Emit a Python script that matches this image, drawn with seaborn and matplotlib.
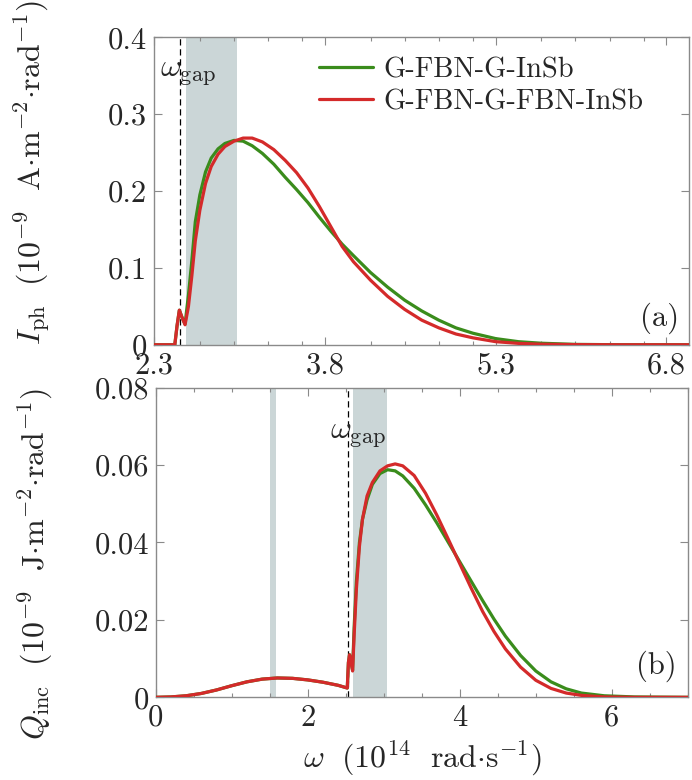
import numpy as np
import pandas as pd
import matplotlib
matplotlib.use('Agg')
import matplotlib.pyplot as plt
from matplotlib.ticker import FixedLocator, MultipleLocator
import seaborn as sns

sns.set_style('ticks')
plt.rcParams['font.family'] = 'serif'
plt.rcParams['font.serif'] = ['cmr10', 'DejaVu Serif']
plt.rcParams['mathtext.fontset'] = 'cm'
plt.rcParams['axes.unicode_minus'] = False

# Panel (a): photocurrent
w_a = [2.30, 2.48, 2.50, 2.52, 2.545, 2.57, 2.60, 2.63, 2.66, 2.70, 2.75, 2.80, 2.86, 2.92,
       3.00, 3.08, 3.16, 3.25, 3.35, 3.45, 3.55, 3.65, 3.75, 3.85, 3.95, 4.05, 4.20, 4.35,
       4.50, 4.65, 4.80, 4.95, 5.10, 5.30, 5.50, 5.70, 6.00, 6.40, 7.00]
iph_green = [0, 0, 0.025, 0.045, 0.035, 0.027, 0.065, 0.110, 0.160, 0.195, 0.225, 0.243, 0.255, 0.262,
             0.266, 0.265, 0.259, 0.249, 0.235, 0.218, 0.202, 0.185, 0.166, 0.148, 0.131, 0.116, 0.094, 0.075,
             0.058, 0.044, 0.032, 0.022, 0.015, 0.008, 0.004, 0.002, 0.0005, 0, 0]
iph_red = [0, 0, 0.025, 0.045, 0.035, 0.026, 0.050, 0.090, 0.135, 0.175, 0.210, 0.232, 0.248, 0.258,
           0.265, 0.269, 0.269, 0.264, 0.254, 0.240, 0.224, 0.204, 0.180, 0.154, 0.128, 0.108, 0.084, 0.063,
           0.046, 0.032, 0.022, 0.014, 0.009, 0.004, 0.0018, 0.0007, 0.0002, 0, 0]

# Panel (b): incident heat flux
w_b = [0, 0.2, 0.4, 0.6, 0.8, 1.0, 1.2, 1.4, 1.6, 1.8, 2.0, 2.2, 2.4, 2.52, 2.535, 2.55, 2.57,
       2.59, 2.61, 2.64, 2.68, 2.72, 2.78, 2.85, 2.95, 3.05, 3.15, 3.25, 3.40, 3.55, 3.70, 3.85,
       4.00, 4.15, 4.30, 4.45, 4.60, 4.80, 5.00, 5.20, 5.40, 5.60, 5.90, 6.30, 7.00]
q_green = [0, 0.0001, 0.0004, 0.0010, 0.0019, 0.0030, 0.0040, 0.0047, 0.0050, 0.0049, 0.0045, 0.0039,
           0.0031, 0.0024, 0.0090, 0.0110, 0.0090, 0.0070, 0.0180, 0.0300, 0.0400, 0.0460, 0.0510,
           0.0550, 0.0578, 0.0588, 0.0585, 0.0572, 0.0540, 0.0497, 0.0450, 0.0400, 0.0350, 0.0300,
           0.0250, 0.0202, 0.0158, 0.0108, 0.0068, 0.0040, 0.0022, 0.0011, 0.0004, 0.0001, 0]
q_red = [0, 0.0001, 0.0004, 0.0010, 0.0019, 0.0030, 0.0040, 0.0047, 0.0050, 0.0049, 0.0045, 0.0039,
         0.0031, 0.0024, 0.0090, 0.0110, 0.0090, 0.0068, 0.0160, 0.0280, 0.0390, 0.0460, 0.0520,
         0.0555, 0.0585, 0.0598, 0.0603, 0.0598, 0.0573, 0.0527, 0.0470, 0.0408, 0.0345, 0.0282,
         0.0222, 0.0170, 0.0125, 0.0078, 0.0044, 0.0023, 0.0011, 0.0005, 0.0001, 0, 0]

labels = ['G-FBN-G-InSb', 'G-FBN-G-FBN-InSb']
colors = ['#3a8c1c', '#d42a2a']
w_gap = 2.53
band_a = (2.575, 3.025)
band_b = [(1.50, 1.58), (2.59, 3.04)]
shade = '#cbd6d7'
spine_c = '#8a8a8a'

df_a = pd.DataFrame({'w': w_a * 2, 'y': iph_green + iph_red,
                     'struct': [labels[0]] * len(w_a) + [labels[1]] * len(w_a)})
df_b = pd.DataFrame({'w': w_b * 2, 'y': q_green + q_red,
                     'struct': [labels[0]] * len(w_b) + [labels[1]] * len(w_b)})

fig = plt.figure(figsize=(6.92, 7.80), dpi=100)
ax1 = fig.add_axes([0.223, 0.558, 0.773, 0.394])
ax2 = fig.add_axes([0.225, 0.106, 0.769, 0.397])

fs_tick = 22
fs_lab = 23

# (a)
ax1.axvspan(*band_a, color=shade, lw=0, zorder=0)
ax1.axvline(w_gap, color='black', ls=(0, (5, 3)), lw=0.9, zorder=1)
sns.lineplot(data=df_a, x='w', y='y', hue='struct', palette=colors, lw=2.3, ax=ax1, zorder=3)
ax1.set_xlim(2.3, 7.0)
ax1.set_ylim(0, 0.4)
ax1.set_xticks([2.3, 3.8, 5.3, 6.8])
ax1.set_xticklabels(['2.3', '3.8', '5.3', '6.8'])
ax1.xaxis.set_minor_locator(FixedLocator([2.7, 3.0, 3.3, 3.6, 4.2, 4.5, 4.8, 5.1, 5.7, 6.0, 6.3, 6.6]))
ax1.set_yticks([0, 0.1, 0.2, 0.3, 0.4])
ax1.set_yticklabels(['0', '0.1', '0.2', '0.3', '0.4'])
ax1.set_xlabel('')
ax1.set_ylabel(r'$I_{\mathrm{ph}}\ \ (10^{-9}\ \ \mathrm{A{\cdot}m^{-2}{\cdot}rad^{-1}})$', fontsize=fs_lab)
ax1.yaxis.set_label_coords(-0.19, 0.56)
ax1.text(2.6, 0.352, r'$\omega_{\mathrm{gap}}$', fontsize=fs_lab, ha='center', va='center')
ax1.text(0.945, 0.085, '(a)', transform=ax1.transAxes, fontsize=fs_tick, ha='center', va='center')
ax1.legend(loc='upper left', bbox_to_anchor=(0.26, 1.02), frameon=False, fontsize=20.5,
           handlelength=1.9, handletextpad=0.35, labelspacing=0.2)

# (b)
for lo, hi in band_b:
    ax2.axvspan(lo, hi, color=shade, lw=0, zorder=0)
ax2.axvline(w_gap, color='black', ls=(0, (5, 3)), lw=0.9, zorder=1)
sns.lineplot(data=df_b, x='w', y='y', hue='struct', palette=colors, lw=2.3, ax=ax2, zorder=3,
             legend=False)
ax2.set_xlim(0, 7.0)
ax2.set_ylim(0, 0.08)
ax2.set_xticks([0, 2, 4, 6])
ax2.set_xticklabels(['0', '2', '4', '6'])
ax2.xaxis.set_minor_locator(MultipleLocator(0.5))
ax2.set_yticks([0, 0.02, 0.04, 0.06, 0.08])
ax2.set_yticklabels(['0', '0.02', '0.04', '0.06', '0.08'])
ax2.set_xlabel(r'$\omega\ \ (10^{14}\ \ \mathrm{rad{\cdot}s^{-1}})$', fontsize=fs_lab, labelpad=5)
ax2.set_ylabel(r'$Q_{\mathrm{inc}}\ \ (10^{-9}\ \ \mathrm{J{\cdot}m^{-2}{\cdot}rad^{-1}})$', fontsize=fs_lab)
ax2.yaxis.set_label_coords(-0.19, 0.43)
ax2.text(2.66, 0.0675, r'$\omega_{\mathrm{gap}}$', fontsize=fs_lab, ha='center', va='center')
ax2.text(0.94, 0.1, '(b)', transform=ax2.transAxes, fontsize=fs_tick, ha='center', va='center')

for ax in (ax1, ax2):
    for s in ax.spines.values():
        s.set_visible(True)
        s.set_color(spine_c)
        s.set_linewidth(1.0)
    ax.tick_params(which='both', direction='in', top=True, right=True, color=spine_c,
                   labelsize=fs_tick, width=0.8)
    ax.tick_params(which='major', length=6, pad=5)
    ax.tick_params(which='minor', length=3)

fig.savefig('out.png', dpi=100)
